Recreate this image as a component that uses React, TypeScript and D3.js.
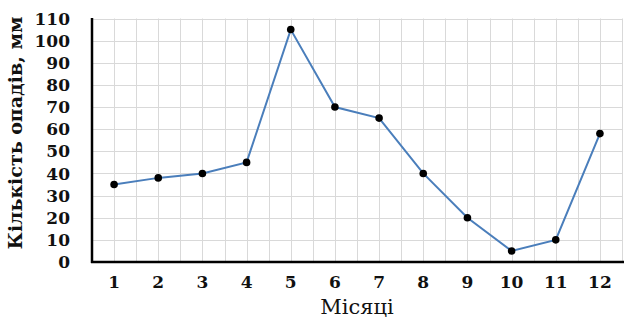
import React from "react";
import * as d3 from "d3";

const months = [1, 2, 3, 4, 5, 6, 7, 8, 9, 10, 11, 12];
const precipitation = [35, 38, 40, 45, 105, 70, 65, 40, 20, 5, 10, 58];
const yTicks = [0, 10, 20, 30, 40, 50, 60, 70, 80, 90, 100, 110];
const xTitle = "Місяці";
const yTitle = "Кількість опадів, мм";

const W = 625;
const H = 325;
const left = 92;
const right = 622;
const top = 18.5;
const bottom = 262;

export default function App() {
  const x = d3.scaleLinear().domain([0.5, 12.5]).range([left, right]);
  const y = d3.scaleLinear().domain([0, 110]).range([bottom, top]);
  const xGrid = d3.range(0.5, 12.51, 0.5);
  const line = d3
    .line<number>()
    .x((_, i) => x(months[i]))
    .y((d) => y(d));
  const font = "'DejaVu Serif', serif";
  return (
    <svg
      width={W}
      height={H}
      style={{ position: "absolute", left: 0, top: 0, background: "#fff" }}
    >
      <g stroke="#d9d9d9" strokeWidth={1}>
        {xGrid.map((g) => (
          <line key={"x" + g} x1={Math.round(x(g)) + 0.5} x2={Math.round(x(g)) + 0.5} y1={top} y2={bottom} />
        ))}
        {yTicks.map((t) => (
          <line key={"y" + t} x1={left} x2={right} y1={Math.round(y(t)) + 0.5} y2={Math.round(y(t)) + 0.5} />
        ))}
      </g>
      <line x1={left} x2={left} y1={top - 0.5} y2={bottom + 1} stroke="#000" strokeWidth={2.5} />
      <line x1={left - 1} x2={right + 2} y1={bottom} y2={bottom} stroke="#000" strokeWidth={2.5} />
      <path d={line(precipitation) || ""} fill="none" stroke="#4a7ebb" strokeWidth={2} />
      {precipitation.map((v, i) => (
        <circle key={i} cx={x(months[i])} cy={y(v)} r={3.8} fill="#000" />
      ))}
      <g fontFamily={font} fontWeight="bold" fontSize={17} fill="#111">
        {yTicks.map((t) => (
          <text key={t} x={70} y={y(t)} dy="0.36em" textAnchor="end">
            {t}
          </text>
        ))}
        {months.map((m) => (
          <text key={m} x={x(m)} y={288} textAnchor="middle">
            {m}
          </text>
        ))}
      </g>
      <text
        x={(left + right) / 2}
        y={314}
        textAnchor="middle"
        fontFamily={font}
        fontSize={21}
        fill="#111"
      >
        {xTitle}
      </text>
      <text
        transform={`translate(22,133) rotate(-90)`}
        textAnchor="middle"
        fontFamily={font}
        fontWeight="bold"
        fontSize={19}
        fill="#111"
      >
        {yTitle}
      </text>
    </svg>
  );
}
